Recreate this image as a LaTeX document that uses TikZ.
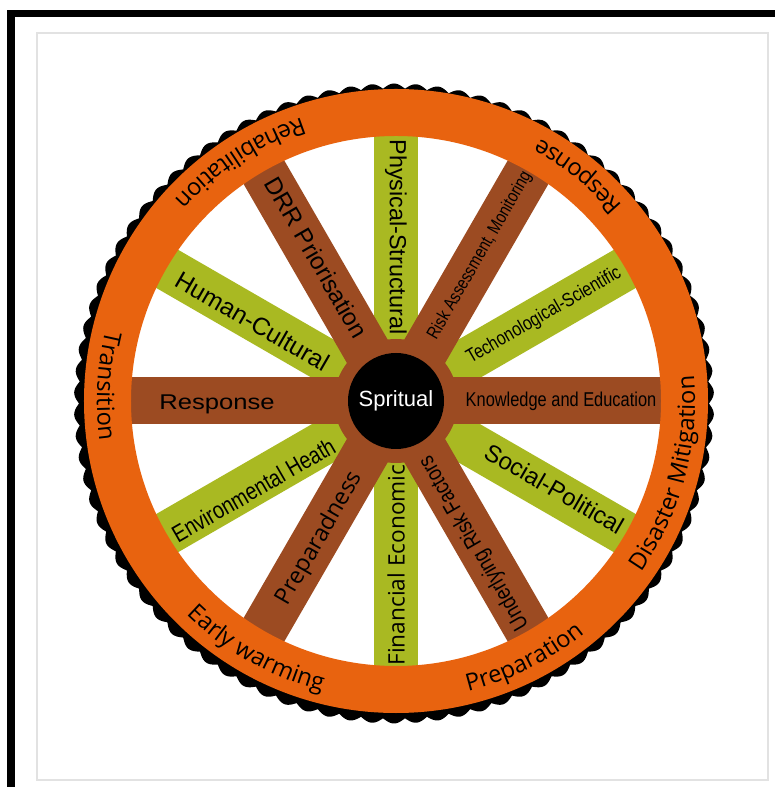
\documentclass[tikz,border=0pt]{standalone}
\usepackage{fontspec}
\setmainfont{Liberation Sans}
\newfontfamily\rimfont{Open Sans}
\newfontfamily\narrowfont[FakeStretch=0.82]{Liberation Sans}
\newfontfamily\widefont[FakeStretch=1.2]{Liberation Sans}
\usetikzlibrary{decorations.text}
\definecolor{rimorange}{HTML}{E8630F}
\definecolor{spokebrown}{HTML}{9C4B22}
\definecolor{spokegreen}{HTML}{A9B922}
\definecolor{framegray}{HTML}{E2E2E2}
\newcommand\rimstyle{\rimfont\fontsize{17.8}{21}\selectfont}

\begin{document}
\begin{tikzpicture}[x=0.75pt, y=0.75pt,
      spokelbl/.style={inner sep=0pt, text=black},
      brownspoke/.style={fill=spokebrown},
      greenspoke/.style={fill=spokegreen},
      rimlbl/.style={decorate, decoration={text along path, text align=center}}
    ]
    \useasboundingbox (-396,-386) rectangle (378,401);
    % frames
    \draw[line width=5.6pt, line join=miter] (395,387.5) -- (-385,387.5) -- (-385,-395);
    \draw[framegray, line width=0.8pt] (-359,-379) rectangle (372,368);
    % toothed rim edge
    \fill[black, shift={(-2,-2.5)}] plot[domain=0:360, samples=1081, variable=\t]
      (\t:{315+5*abs(sin(45*\t))}) -- cycle;
    \fill[white] (0,0) circle[radius=300];
    % spokes and hub
    \foreach \a in {30,90,...,330}
      \fill[greenspoke, rotate=\a] (60,-22) rectangle (290,22);
    \fill[spokebrown] (0,0) circle[radius=62];
    \foreach \a in {0,60,...,300}
      \fill[brownspoke, rotate=\a] (0,-23.5) rectangle (290,23.5);
    \fill[rimorange, even odd rule] (0,0) circle[radius=312] circle[radius=265];
    \node[circle, fill=black, minimum size=72pt, inner sep=0pt, text=white,
          font=\fontsize{16.5}{20}\selectfont] (spirit) at (0,0) {Spritual};

    \node[spokelbl, rotate=-90, font=\fontsize{17.5}{20}\selectfont] (phys) at (90:164) {Physical-Structural};
    \node[spokelbl, rotate=-60, font=\fontsize{18.2}{20}\selectfont] (drr) at (119:164) {DRR Priorisation};
    \node[spokelbl, rotate=-30, font=\fontsize{18.5}{20}\selectfont] (human) at (151:164) {Human-Cultural};
    \node[spokelbl, font=\widefont\fontsize{16}{20}\selectfont] (resp) at (181:179) {Response};
    \node[spokelbl, rotate=30, font=\narrowfont\fontsize{18}{20}\selectfont] (env) at (212:168) {Environmental Heath};
    \node[spokelbl, rotate=60, font=\rimfont\fontsize{17.5}{20}\selectfont] (prep) at (241:157) {Preparadness};
    \node[spokelbl, rotate=90, font=\rimfont\fontsize{17}{20}\selectfont] (fin) at (270:164) {Financial Economic};
    \node[spokelbl, rotate=120, font=\narrowfont\fontsize{17}{20}\selectfont] (under) at (299:162) {Underlying Risk Factors};
    \node[spokelbl, rotate=-30, font=\fontsize{18}{20}\selectfont] (social) at (331:181) {Social-Political};
    \node[spokelbl, font=\narrowfont\fontsize{15}{18}\selectfont] (know) at (0:165) {Knowledge and Education};
    \node[spokelbl, rotate=30, font=\narrowfont\fontsize{14.6}{18}\selectfont] (tech) at (30:171) {Techonological-Scientific};
    \node[spokelbl, rotate=60, font=\narrowfont\fontsize{13.5}{16}\selectfont] (risk) at (60:168) {Risk Assessment, Monitoring};

    % rim labels
    \path[rimlbl, decoration={text={|\rimstyle|Rehabilitation}}] (83:299) arc[start angle=83, end angle=163, radius=299];
    \path[rimlbl, decoration={text={|\rimstyle|Response}}] (11:299) arc[start angle=11, end angle=91, radius=299];
    \path[rimlbl, decoration={text={|\rimstyle|Transition}}] (137:299) arc[start angle=137, end angle=217, radius=299];
    \path[rimlbl, decoration={text={|\rimstyle|Disaster Mitigation}}] (-55:299) arc[start angle=-55, end angle=25, radius=299];
    \path[rimlbl, decoration={text={|\rimstyle|Preparation}}] (-103.5:299) arc[start angle=-103.5, end angle=-23.5, radius=299];
    \path[rimlbl, decoration={text={|\rimstyle|Early warming}}] (200.6:299) arc[start angle=200.6, end angle=280.6, radius=299];
  \end{tikzpicture}
\end{document}
